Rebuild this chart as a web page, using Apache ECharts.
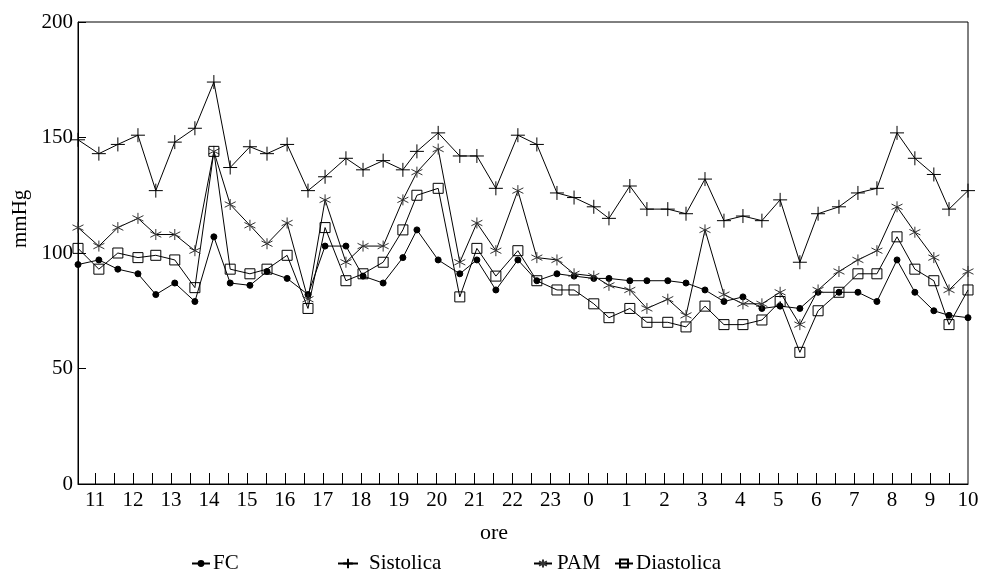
<!DOCTYPE html>
<html>
<head>
<meta charset="utf-8">
<script src="https://cdn.jsdelivr.net/npm/echarts@6/dist/echarts.min.js"></script>
<style>
html,body{margin:0;padding:0;background:#fff;}
#chart{width:985px;height:575px;}
</style>
</head>
<body>
<div id="chart"></div>
<script>
// ore di misura (ore decimali, 24+ = giorno dopo)
var ore = [10.55, 11.1, 11.6, 12.13, 12.6, 13.1, 13.63, 14.13, 14.56, 15.08,
	15.53, 16.06, 16.61, 17.06, 17.61, 18.06, 18.59, 19.11, 19.48, 20.04,
	20.61, 21.06, 21.56, 22.14, 22.64, 23.17, 23.62, 24.14, 24.54, 25.09,
	25.54, 26.09, 26.57, 27.07, 27.57, 28.07, 28.57, 29.05, 29.57, 30.05,
	30.6, 31.1, 31.6, 32.13, 32.6, 33.1, 33.5, 34];
var fc = [95, 97, 93, 91, 82, 87, 79, 107, 87, 86,
	92, 89, 82, 103, 103, 90, 87, 98, 110, 97,
	91, 97, 84, 97, 88, 91, 90, 89, 89, 88,
	88, 88, 87, 84, 79, 81, 76, 77, 76, 83,
	83, 83, 79, 97, 83, 75, 73, 72];
var sistolica = [149, 143, 147, 151, 127, 148, 154, 174, 137, 146,
	143, 147, 127, 133, 141, 136, 140, 136, 144, 152,
	142, 142, 128, 151, 147, 126, 124, 120, 115, 129,
	119, 119, 117, 132, 114, 116, 114, 123, 96, 117,
	120, 126, 128, 152, 141, 134, 119, 127];
var pam = [111, 103, 111, 115, 108, 108, 101, 144, 121, 112,
	104, 113, 80, 123, 96, 103, 103, 123, 135, 145,
	96, 113, 101, 127, 98, 97, 91, 90, 86, 84,
	76, 80, 73, 110, 82, 78, 78, 83, 69, 84,
	92, 97, 101, 120, 109, 98, 84, 92];
var diastolica = [102, 93, 100, 98, 99, 97, 85, 144, 93, 91,
	93, 99, 76, 111, 88, 91, 96, 110, 125, 128,
	81, 102, 90, 101, 88, 84, 84, 78, 72, 76,
	70, 70, 68, 77, 69, 69, 71, 79, 57, 75,
	83, 91, 91, 107, 93, 88, 69, 84];
var oreEtichette = [11, 12, 13, 14, 15, 16, 17, 18, 19, 20, 21, 22, 23, 24,
	25, 26, 27, 28, 29, 30, 31, 32, 33, 34];
var oreTacche = [];
for (var h = 11; h < 34; h += 0.5) oreTacche.push(h);

var FONT = 'Liberation Serif';
var PLUS = 'path://M0,5L10,5M5,0L5,10';
var STAR = 'path://M5,0L5,10M0.67,2.5L9.33,7.5M0.67,7.5L9.33,2.5';
var RECT = 'path://M0,0L10,0L10,10L0,10Z';

function coppie(valori) {
	return valori.map(function (v, i) { return [ore[i], v]; });
}

function serie(nome, valori, simbolo, size, fill, col) {
	return {
		name: nome,
		type: 'line',
		data: coppie(valori),
		symbol: simbolo,
		symbolSize: size,
		showAllSymbol: true,
		animation: false,
		lineStyle: { color: '#000', width: 1 },
		itemStyle: { color: fill, borderColor: col, borderWidth: 1 },
		emphasis: { disabled: true }
	};
}

function legenda(nome, left, w, hgt, pad) {
	return {
		data: [nome],
		left: left,
		top: 553,
		padding: 0,
		itemWidth: w,
		itemHeight: hgt,
		itemGap: 0,
		textStyle: { fontFamily: FONT, fontSize: 21, color: '#000', padding: [0, 0, 0, pad] },
		selectedMode: false
	};
}

var chart = echarts.init(document.getElementById('chart'));
var option = {
	backgroundColor: '#fff',
	animation: false,
	grid: {
		left: 78, right: 17, top: 22, bottom: 91,
		show: true, borderColor: '#000', borderWidth: 1, backgroundColor: 'transparent'
	},
	xAxis: {
		type: 'value',
		min: 10.55,
		max: 34,
		splitLine: { show: false },
		axisLine: { lineStyle: { color: '#000', width: 1 } },
		axisTick: {
			inside: true, length: 11,
			customValues: oreTacche,
			lineStyle: { color: '#000', width: 1 }
		},
		axisLabel: {
			customValues: oreEtichette,
			margin: 6,
			fontFamily: FONT, fontSize: 21, color: '#000',
			formatter: function (v) { return String(Math.round(v) % 24); }
		}
	},
	yAxis: {
		type: 'value',
		min: 0,
		max: 200,
		interval: 50,
		splitLine: { show: false },
		axisLine: { show: true, lineStyle: { color: '#000', width: 1 } },
		axisTick: { inside: true, length: 8, lineStyle: { color: '#000' } },
		axisLabel: { margin: 5, fontFamily: FONT, fontSize: 21, color: '#000' }
	},
	legend: [
		legenda('FC', 191, 18, 6, -2),
		legenda('Sistolica', 337, 20, 12, 6),
		legenda('PAM', 533, 18, 10, 0),
		legenda('Diastolica', 614, 18, 10, -2)
	],
	graphic: [
		{
			type: 'text', left: 480, top: 522,
			style: { text: 'ore', fontFamily: FONT, fontSize: 22, fill: '#000' }
		},
		{
			type: 'text', x: 10, y: 248, rotation: Math.PI / 2,
			style: { text: 'mmHg', fontFamily: FONT, fontSize: 21, fill: '#000' }
		}
	],
	series: [
		serie('FC', fc, 'circle', 6, '#000', '#000'),
		serie('Sistolica', sistolica, PLUS, 14, '#000', '#000'),
		serie('PAM', pam, STAR, 11, '#000', '#333'),
		serie('Diastolica', diastolica, RECT, 10, 'rgba(0,0,0,0)', '#000')
	]
};
chart.setOption(option);
</script>
</body>
</html>
